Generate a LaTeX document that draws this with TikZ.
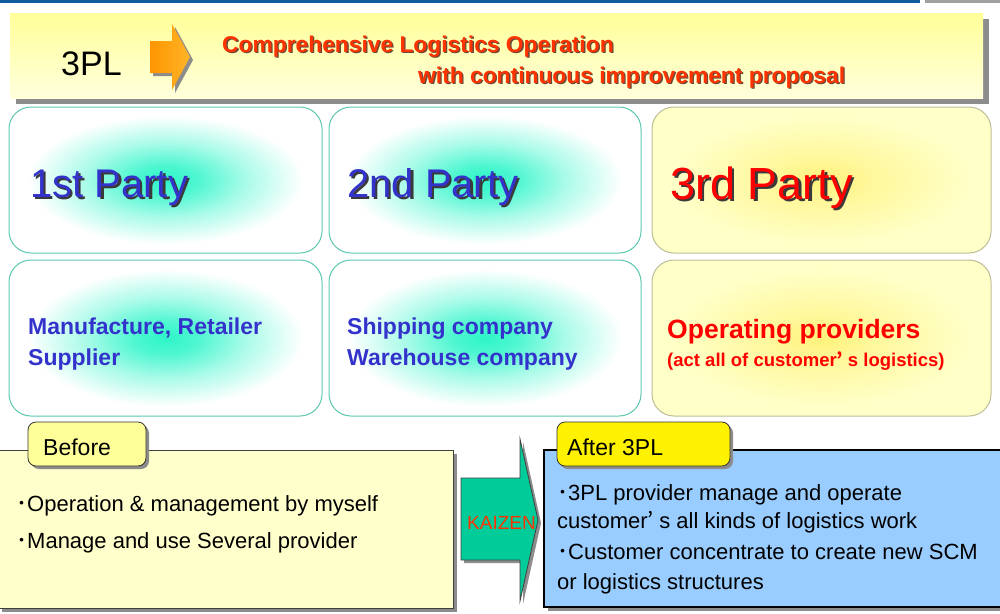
\documentclass[tikz,border=0pt]{standalone}
\usepackage{fontspec}
\setmainfont{Liberation Sans}
\newfontfamily\cjk{Noto Sans CJK JP}
\usetikzlibrary{shadows}
\definecolor{topblue}{HTML}{0F5B9B}
\definecolor{topgray}{HTML}{A0A0A0}
\definecolor{bantop}{HTML}{FFFF99}
\definecolor{banbot}{HTML}{FFFFDC}
\definecolor{shgray}{HTML}{8C8C8C}
\definecolor{banred}{HTML}{FF3300}
\definecolor{banshadow}{HTML}{6A4A3A}
\definecolor{orangeA}{HTML}{FF9600}
\definecolor{orangeB}{HTML}{FFB428}
\definecolor{glow}{HTML}{2EF5C8}
\definecolor{yglow}{HTML}{FFF27A}
\definecolor{yout}{HTML}{FFFFC8}
\definecolor{cyanedge}{HTML}{5CC8B0}
\definecolor{yeledge}{HTML}{BDBD98}
\definecolor{partyblue}{HTML}{3333CC}
\definecolor{txtshadow}{HTML}{3A3A3A}
\definecolor{beforefill}{HTML}{FFFFCC}
\definecolor{labelyellow}{HTML}{FFFF99}
\definecolor{afterfill}{HTML}{99CCFF}
\definecolor{kaizengreen}{HTML}{00CC99}
\pgfdeclareradialshading{cyanglow}{\pgfpoint{0bp}{0bp}}{color(0bp)=(glow); color(5bp)=(glow!85!white); color(13bp)=(glow!40!white); color(22bp)=(white); color(50bp)=(white)}
\pgfdeclareradialshading{yelglow}{\pgfpoint{0bp}{0bp}}{color(0bp)=(yglow); color(8bp)=(yglow!55!yout); color(22bp)=(yout); color(50bp)=(yout)}
\newcommand\fsz[1]{\fontsize{#1}{#1}\selectfont}
% text with a drop shadow, in one node: #1 shadow colour, #2 offset, #3 text
\newcommand\shtext[3]{\makebox[0pt][l]{\hspace*{#2}\raisebox{-#2}{\textcolor{#1}{#3}}}#3}
\tikzset{
  bannerbox/.style={minimum width=973pt, minimum height=85pt, inner sep=0pt, top color=bantop, bottom color=banbot, draw=none,
    drop shadow={shadow xshift=6pt, shadow yshift=-6pt, fill=shgray, opacity=1}},
  cyanbox/.style={rounded corners=22pt, draw=cyanedge, line width=1pt, shade, shading=cyanglow, inner sep=0pt},
  yellowbox/.style={rounded corners=22pt, draw=yeledge, line width=1pt, shade, shading=yelglow, inner sep=0pt},
  bantext/.style={anchor=base west, inner sep=0pt, font=\fsz{22.8}\bfseries, text=banred},
  partytext/.style={anchor=base west, inner sep=0pt, font=\fsz{40}},
  subtext/.style={anchor=base west, inner sep=0pt, font=\fsz{23}\bfseries, text=partyblue},
  bodytext/.style={anchor=base west, inner sep=0pt, font=\fsz{22}},
  panel/.style={inner sep=0pt, draw=black!75, line width=0.8pt,
    drop shadow={shadow xshift=4pt, shadow yshift=-4pt, fill=shgray, opacity=1}},
  tagbox/.style={rounded corners=8pt, inner sep=0pt, draw=black!80, line width=0.8pt, minimum height=44pt,
    drop shadow={shadow xshift=3pt, shadow yshift=-3pt, fill=shgray, opacity=1}},
}
\begin{document}
\begin{tikzpicture}[x=1pt,y=-1pt]
\useasboundingbox (0,0) rectangle (1000,613);
\fill[white] (0,0) rectangle (1000,613);
% top rule
\fill[topblue] (0,0) rectangle (920,2.5);
\fill[topgray] (925,0) rectangle (1000,2.5);
% banner
\node[bannerbox] (banner) at (496.5,55.5) {};
\node[anchor=base west, inner sep=0pt, font=\fsz{34}] (tpl) at (61,75) {3PL};
% orange arrow
\fill[shgray] (153,44) -- (175,44) -- (175,27) -- (193,60) -- (175,93) -- (175,76) -- (153,76) -- cycle;
\shade[left color=orangeA, right color=orangeB] (150,41) -- (172,41) -- (172,24) -- (190,57) -- (172,90) -- (172,73) -- (150,73) -- cycle;
\node[bantext] (c1) at (222,52) {\shtext{banshadow}{1.3pt}{Comprehensive Logistics Operation}};
\node[bantext] (c2) at (418,83) {\shtext{banshadow}{1.3pt}{with continuous improvement proposal}};
% upper party boxes
\node[cyanbox, minimum width=313pt, minimum height=146pt] (p1) at (165.5,180) {};
\node[cyanbox, minimum width=312pt, minimum height=146pt] (p2) at (485,180) {};
\node[yellowbox, minimum width=339pt, minimum height=146pt] (p3) at (821.5,180) {};
\node[partytext, text=partyblue] (p1t) at (30,197) {\shtext{txtshadow}{2.5pt}{1st Party}};
\node[partytext, text=partyblue] (p2t) at (347,197) {\shtext{txtshadow}{2.5pt}{2nd Party}};
\node[partytext, font=\fsz{45}, text=red] (p3t) at (670,199) {\shtext{txtshadow}{2.5pt}{3rd Party}};
% lower boxes
\node[cyanbox, minimum width=313pt, minimum height=156pt] (q1) at (165.5,338) {};
\node[cyanbox, minimum width=312pt, minimum height=156pt] (q2) at (485,338) {};
\node[yellowbox, minimum width=339pt, minimum height=156pt] (q3) at (821.5,338) {};
\node[subtext] (q1a) at (28,334) {Manufacture, Retailer};
\node[subtext] (q1b) at (28,365) {Supplier};
\node[subtext] (q2a) at (347,334) {Shipping company};
\node[subtext] (q2b) at (347,365) {Warehouse company};
\node[subtext, font=\fsz{26.5}\bfseries, text=red] (q3a) at (667,338) {Operating providers};
\node[subtext, font=\fsz{18.5}\bfseries, text=red] (q3b) at (667,366) {(act all of customer{\cjk ’}\kern0.25em s logistics)};
% before panel
\node[panel, fill=beforefill, minimum width=455pt, minimum height=158pt] (before) at (225.5,529) {};
\node[tagbox, fill=labelyellow, minimum width=118pt] (beforetag) at (87,444) {};
\node[anchor=base west, inner sep=0pt, font=\fsz{23}] (beforelbl) at (43,455) {Before};
\node[bodytext] (b1) at (16,511) {{\cjk ･}Operation \& management by myself};
\node[bodytext] (b2) at (16,548) {{\cjk ･}Manage and use Several provider};
% kaizen arrow
\fill[shgray] (464,481) -- (523,481) -- (523,442) -- (541,523) -- (523,604) -- (523,563) -- (464,563) -- cycle;
\filldraw[fill=kaizengreen, draw=black!75, line width=0.8pt] (461,478) -- (520,478) -- (520,439) -- (538,520) -- (520,601) -- (520,560) -- (461,560) -- cycle;
\node[anchor=base, inner sep=0pt, font=\fsz{19}, text=banred] (kaizen) at (501.5,529) {KAIZEN};
% after panel
\node[panel, fill=afterfill, draw=black, line width=1.5pt, minimum width=460pt, minimum height=157pt] (after) at (774,528.5) {};
\node[tagbox, fill=yellow, minimum width=173pt] (aftertag) at (643.5,444) {};
\node[anchor=base west, inner sep=0pt, font=\fsz{23}] (afterlbl) at (567,455) {After 3PL};
\node[bodytext] (a1) at (557,500) {{\cjk ･}3PL provider manage and operate};
\node[bodytext] (a2) at (557,528) {customer{\cjk ’}\kern0.25em s all kinds of logistics work};
\node[bodytext] (a3) at (557,559) {{\cjk ･}Customer concentrate to create new SCM};
\node[bodytext] (a4) at (557,589) {or logistics structures};
\end{tikzpicture}
\end{document}
